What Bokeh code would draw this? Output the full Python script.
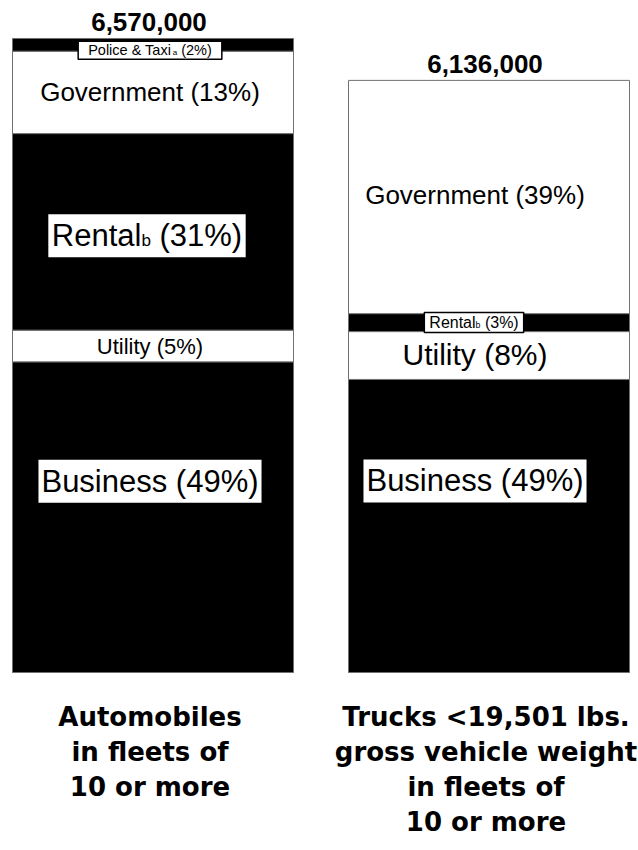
from bokeh.plotting import figure
from bokeh.models import Range1d, ColumnDataSource
from bokeh.core.properties import value
from bokeh.embed import file_html
from bokeh.resources import INLINE

# ---------------- data ----------------
vehicle_types = ["Automobiles", "Trucks"]
totals = [6570000, 6136000]
total_labels = ["6,570,000", "6,136,000"]
segments = ["Business", "Utility", "Rental", "Government", "Police & Taxi"]
auto_pct = [49, 5, 31, 13, 2]
truck_pct = [49, 8, 3, 39, 0]
subscripts = {"Police & Taxi": "a", "Rental": "b"}
titles = [
    ["Automobiles", "in fleets of", "10 or more"],
    ["Trucks <19,501 lbs.", "gross vehicle weight", "in fleets of", "10 or more"],
]

# ---------------- layout / style ----------------
W, H = 638, 850
BAR_PX = 336.0          # px between bar centres
FIRST_PX = 152.5        # px of first bar centre
BAR_W_PX = 281.0
BASE_PX = 672.0         # px from top of the zero line
PX_PER_M = 96.5         # px per million vehicles

x_start = -FIRST_PX / BAR_PX
x_end = (W - FIRST_PX) / BAR_PX
y_start = -(H - BASE_PX) / PX_PER_M * 1e6
y_end = BASE_PX / PX_PER_M * 1e6
py = H / (y_end - y_start)   # px per vehicle (vertical)

seg_fill = {"Business": "black", "Utility": "white", "Rental": "black",
            "Government": "white", "Police & Taxi": "black"}

# label styles: (font px, dy px (down), dx px, box (w_pad, h) or None, border)
styles = {
    (0, "Business"): (31, -36, -3, (3, 43), False),
    (0, "Utility"): (22, 1, -3, None, False),
    (0, "Rental"): (31, 4, -6, (3.5, 43), False),
    (0, "Government"): (26, 0, -3, None, False),
    (0, "Police & Taxi"): (14.5, 5.5, -3, (10, 18), True),
    (1, "Business"): (31, -45, -14, (3, 43), False),
    (1, "Utility"): (30, -1, -14, None, False),
    (1, "Rental"): (16, 0, -15, (5, 20), True),
    (1, "Government"): (26, -2.5, -14, None, False),
}

ARIAL = {'R': .722, 'e': .556, 'n': .556, 't': .278, 'a': .556, 'l': .222, ' ': .278,
         '(': .333, ')': .333, '%': .889, 'P': .667, 'o': .556, 'i': .222, 'c': .5,
         '&': .667, 'T': .611, 'x': .5, 'b': .556, 'B': .667, 'u': .556, 's': .5,
         'U': .722, 'y': .5}
for d in "0123456789":
    ARIAL[d] = .556


def tw(s, size):
    return sum(ARIAL.get(ch, .556) for ch in s) * size


FONT = value("Liberation Sans")

p = figure(width=W, height=H, output_backend="svg", toolbar_location=None,
           x_range=Range1d(x_start, x_end), y_range=Range1d(y_start, y_end),
           min_border=0, outline_line_color=None, background_fill_color="white",
           border_fill_color="white")
p.axis.visible = False
p.grid.visible = False

# ---------------- bars ----------------
pcts = [auto_pct, truck_pct]
xs, bottoms, tops, fills = [], [], [], []
centers = {}
for i, pc in enumerate(pcts):
    scale = totals[i] / sum(pc)
    acc = 0.0
    for seg, v in zip(segments, pc):
        if v == 0:
            continue
        b = acc
        acc += v * scale
        xs.append(i)
        bottoms.append(b)
        tops.append(acc)
        fills.append(seg_fill[seg])
        centers[(i, seg)] = (b + acc) / 2

src = ColumnDataSource(dict(x=xs, bottom=bottoms, top=tops, fill=fills))
p.vbar(x="x", bottom="bottom", top="top", width=BAR_W_PX / BAR_PX, source=src,
       fill_color="fill", line_color="#707070", line_width=1)


def text(i, y, s, size, x_off, y_off, align="left"):
    p.text(x=[i], y=[y], text=[s], text_font=FONT,
           text_font_size=value("%.1fpx" % size), text_align=align,
           text_baseline="middle", x_offset=x_off, y_offset=y_off,
           text_color="black")


# ---------------- segment labels ----------------
for i, pc in enumerate(pcts):
    for seg, v in zip(segments, pc):
        if v == 0:
            continue
        size, dy, dx, box, border = styles[(i, seg)]
        yc = centers[(i, seg)]
        rest = "(%d%%)" % v
        if seg in subscripts:
            sub = subscripts[seg]
            fs = size * 0.55
            w_main = tw(seg, size)
            w_sub = tw(sub, fs)
            w_sp = tw(" ", size)
            w_rest = tw(rest, size)
            total_w = w_main + w_sub + w_sp + w_rest
        else:
            sub = None
            total_w = tw(seg + " " + rest, size)
        if box is not None:
            padx, bh = box
            p.rect(x=[i + dx / BAR_PX], y=[yc - dy / py], width=total_w + 2 * padx,
                   height=bh, width_units="screen", height_units="screen",
                   fill_color="white",
                   line_color="black" if border else None,
                   line_width=1.5)
        if sub is not None:
            start = -total_w / 2 + dx
            # align baselines: middle of em-box sits 0.347 em above baseline
            sub_dy = dy + 0.347 * (size - fs)
            text(i, yc, seg, size, start, dy)
            text(i, yc, sub, fs, start + w_main, sub_dy)
            text(i, yc, rest, size, start + w_main + w_sub + w_sp, dy)
        else:
            text(i, yc, seg + " " + rest, size, dx, dy, align="center")

# ---------------- totals ----------------
tsrc = ColumnDataSource(dict(x=list(range(len(totals))), y=totals, t=total_labels,
                             dy=[-16, -16.5]))
p.text(x="x", y="y", text="t", source=tsrc, text_font=FONT,
       text_font_size=value("26px"), text_font_style="bold", text_align="center",
       text_baseline="middle", x_offset=-4, y_offset="dy", text_color="black")

# ---------------- category titles ----------------
for i, lines in enumerate(titles):
    for k, line in enumerate(lines):
        p.text(x=[i], y=[0], text=[line], text_font=value("DejaVu Sans"),
               text_font_size=value("26px"), text_font_style="bold",
               text_align="center", text_baseline="middle",
               x_offset=-3, y_offset=44 + 35 * k, text_color="black")

open("out.html", "w").write(file_html(p, INLINE))
